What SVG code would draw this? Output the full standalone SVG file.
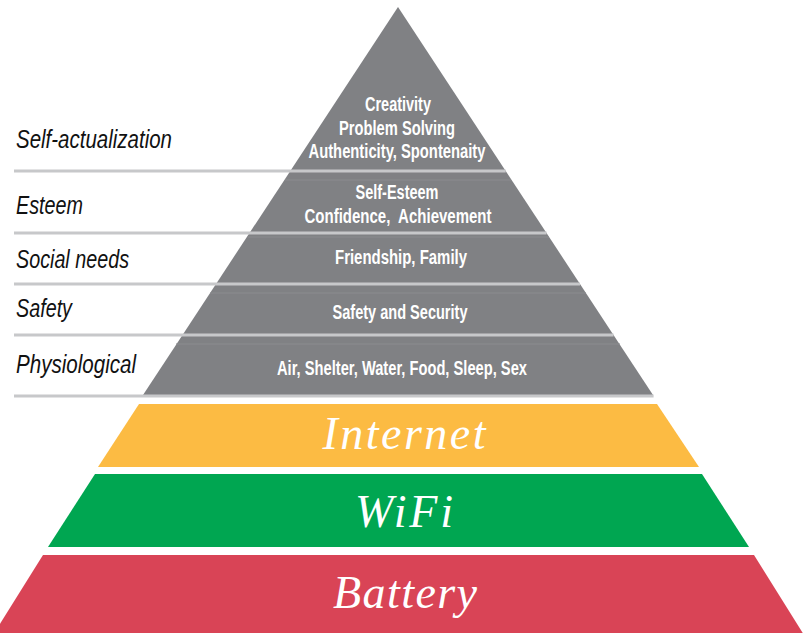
<svg xmlns="http://www.w3.org/2000/svg" width="804" height="633" viewBox="0 0 804 633">
  <style>
    .tier { fill: #808184; }
    .seam { stroke: #8b8c8f; stroke-width: 1; }
    .sep { stroke: #c7c8ca; stroke-width: 3; }
    .label { font-family: "Liberation Sans", Arial, sans-serif; font-style: italic; font-size: 25px; fill: #111111; }
    .inner { font-family: "Liberation Sans", Arial, sans-serif; font-weight: bold; font-size: 19.5px; fill: #ffffff; text-anchor: middle; }
    .hand { font-family: "Liberation Serif", "DejaVu Serif", serif; font-style: italic; font-size: 46px; fill: #ffffff; text-anchor: middle; }
  </style>
  <rect width="804" height="633" fill="#ffffff"/>

  <!-- grey needs pyramid -->
  <g id="self-actualization">
    <polygon class="tier" points="398,7 505.7,171 290.3,171"/>
    <text class="inner" x="398" y="111" textLength="66" lengthAdjust="spacingAndGlyphs">Creativity</text>
    <text class="inner" x="397" y="135" textLength="116" lengthAdjust="spacingAndGlyphs">Problem Solving</text>
    <text class="inner" x="397" y="158" textLength="177" lengthAdjust="spacingAndGlyphs">Authenticity, Spontenaity</text>
  </g>
  <g id="esteem">
    <polygon class="tier" points="290.3,171 505.7,171 546.5,233 249.5,233"/>
    <line class="seam" x1="285" y1="180" x2="511" y2="180"/>
    <text class="inner" x="397" y="199" textLength="83" lengthAdjust="spacingAndGlyphs">Self-Esteem</text>
    <text class="inner" x="398" y="223" textLength="187" lengthAdjust="spacingAndGlyphs" xml:space="preserve">Confidence,  Achievement</text>
  </g>
  <g id="social">
    <polygon class="tier" points="249.5,233 546.5,233 580,284 216,284"/>
    <line class="seam" x1="248" y1="237" x2="549" y2="237"/>
    <text class="inner" x="401" y="264" textLength="132" lengthAdjust="spacingAndGlyphs">Friendship, Family</text>
  </g>
  <g id="safety">
    <polygon class="tier" points="216,284 580,284 613.5,335 182.5,335"/>
    <line class="seam" x1="210" y1="293" x2="586" y2="293"/>
    <text class="inner" x="400" y="319" textLength="135" lengthAdjust="spacingAndGlyphs">Safety and Security</text>
  </g>
  <g id="physiological">
    <polygon class="tier" points="182.5,335 613.5,335 653,395 143,395"/>
    <line class="seam" x1="176" y1="344" x2="620" y2="344"/>
    <text class="inner" x="402" y="375" textLength="250" lengthAdjust="spacingAndGlyphs">Air, Shelter, Water, Food, Sleep, Sex</text>
  </g>

  <!-- level rules and names on the left -->
  <g id="levels">
    <line class="sep" x1="14" y1="171" x2="505.7" y2="171"/>
    <line class="sep" x1="14" y1="233" x2="546.5" y2="233"/>
    <line class="sep" x1="14" y1="284" x2="580" y2="284"/>
    <line class="sep" x1="14" y1="335" x2="613.5" y2="335"/>
    <line class="sep" x1="14" y1="396" x2="653.6" y2="396"/>
    <text class="label" x="16" y="148" textLength="156" lengthAdjust="spacingAndGlyphs">Self-actualization</text>
    <text class="label" x="16" y="214" textLength="67" lengthAdjust="spacingAndGlyphs">Esteem</text>
    <text class="label" x="16" y="268" textLength="113" lengthAdjust="spacingAndGlyphs">Social needs</text>
    <text class="label" x="16" y="317" textLength="56" lengthAdjust="spacingAndGlyphs">Safety</text>
    <text class="label" x="16" y="373" textLength="120" lengthAdjust="spacingAndGlyphs">Physiological</text>
  </g>

  <!-- coloured base -->
  <g id="internet">
    <polygon points="139,404 657,404 699,467 98,467" fill="#fcbb43"/>
    <text class="hand" x="404" y="449" textLength="163" lengthAdjust="spacing">Internet</text>
  </g>
  <g id="wifi">
    <polygon points="95,474 702,474 749,547 48,547" fill="#00a651"/>
    <text class="hand" x="404" y="527" textLength="98" lengthAdjust="spacing">WiFi</text>
  </g>
  <g id="battery">
    <polygon points="43,555 754,555 804,635 -7,635" fill="#d94456"/>
    <text class="hand" x="405" y="608" textLength="144" lengthAdjust="spacing">Battery</text>
  </g>
</svg>
